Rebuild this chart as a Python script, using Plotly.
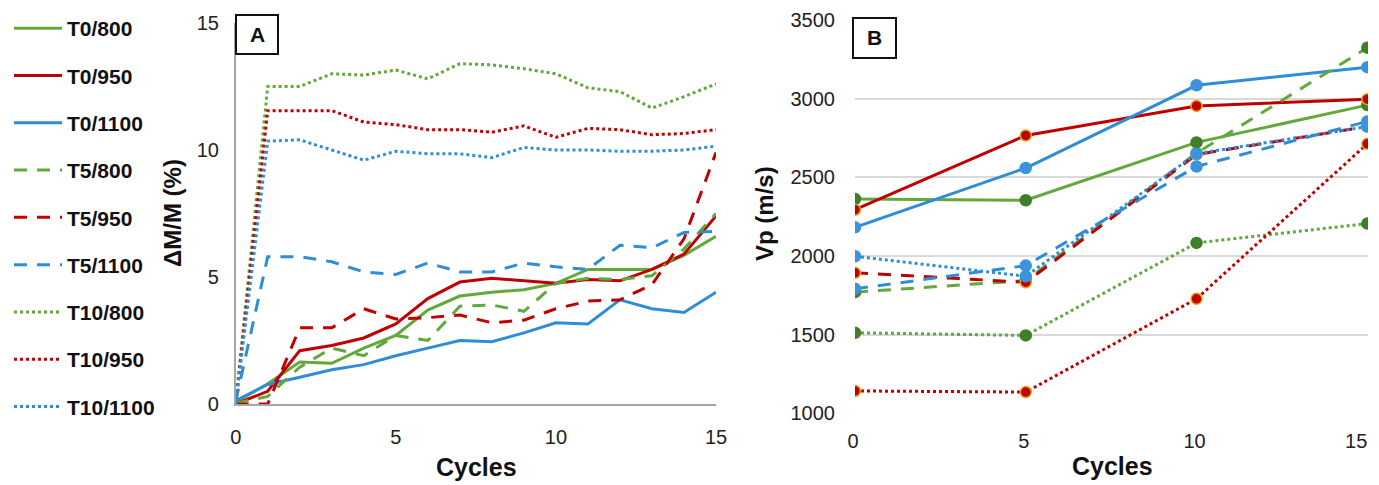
import plotly.graph_objects as go

# ---------------- data ----------------
cycles_a = list(range(16))
series_names = ["T0/800", "T0/950", "T0/1100", "T5/800", "T5/950", "T5/1100",
                "T10/800", "T10/950", "T10/1100"]

dm_T0_800 = [0.07, 0.8, 1.65, 1.6, 2.2, 2.7, 3.7, 4.25, 4.4, 4.5, 4.75, 5.3, 5.3, 5.3, 5.85, 6.6]
dm_T0_950 = [0.0, 0.5, 2.1, 2.3, 2.6, 3.15, 4.15, 4.8, 4.95, 4.85, 4.75, 4.9, 4.85, 5.3, 5.9, 7.4]
dm_T0_1100 = [0.13, 0.77, 1.05, 1.35, 1.55, 1.9, 2.2, 2.5, 2.45, 2.8, 3.2, 3.15, 4.1, 3.75, 3.6, 4.4]
dm_T5_800 = [0.03, 0.3, 1.45, 2.2, 1.9, 2.7, 2.5, 3.85, 3.9, 3.65, 4.75, 4.95, 4.9, 5.05, 6.1, 7.5]
dm_T5_950 = [0.0, 0.0, 3.0, 3.0, 3.75, 3.35, 3.4, 3.5, 3.2, 3.3, 3.75, 4.05, 4.1, 4.7, 6.5, 9.9]
dm_T5_1100 = [0.1, 5.8, 5.8, 5.6, 5.2, 5.1, 5.55, 5.2, 5.2, 5.55, 5.4, 5.3, 6.25, 6.15, 6.75, 6.8]
dm_T10_800 = [0.0, 12.5, 12.5, 13.0, 12.95, 13.15, 12.8, 13.4, 13.35, 13.2, 13.0, 12.45, 12.3, 11.65, 12.1, 12.6]
dm_T10_950 = [0.0, 11.55, 11.55, 11.55, 11.1, 11.0, 10.8, 10.8, 10.7, 10.95, 10.5, 10.85, 10.8, 10.6, 10.65, 10.8]
dm_T10_1100 = [0.0, 10.35, 10.4, 10.0, 9.6, 9.95, 9.85, 9.85, 9.7, 10.1, 10.0, 10.0, 9.95, 9.95, 10.0, 10.15]

cycles_b = [0, 5, 10, 15]
vp_T0_800 = [2362, 2354, 2722, 2959]
vp_T0_950 = [2294, 2766, 2954, 2997]
vp_T0_1100 = [2182, 2559, 3085, 3200]
vp_T5_800 = [1770, 1844, 2654, 3324]
vp_T5_950 = [1893, 1833, 2645, 2823]
vp_T5_1100 = [1791, 1939, 2569, 2855]
vp_T10_800 = [1512, 1495, 2083, 2206]
vp_T10_950 = [1142, 1135, 1728, 2713]
vp_T10_1100 = [1998, 1871, 2650, 2823]

ticks_a = [0, 5, 10, 15]
ticks_b_x_inner = [0, 5, 10]
ticks_b_x_last = [15]
ticks_b_y = [1000, 1500, 2000, 2500, 3000, 3500]

# ---------------- styles ----------------
GREEN, RED, BLUE = "#62a83a", "#c00000", "#2f8dd8"
MK_GREEN, MK_RED, MK_BLUE = "#3f7f26", "#c00000", "#3a93dc"
DASH = "13px,10px"

dm_data = [dm_T0_800, dm_T0_950, dm_T0_1100, dm_T5_800, dm_T5_950, dm_T5_1100,
           dm_T10_800, dm_T10_950, dm_T10_1100]
vp_data = [vp_T0_800, vp_T0_950, vp_T0_1100, vp_T5_800, vp_T5_950, vp_T5_1100,
           vp_T10_800, vp_T10_950, vp_T10_1100]
colors = [GREEN, RED, BLUE] * 3
mk_colors = [MK_GREEN, MK_RED, MK_BLUE] * 3
dashes = ["solid"] * 3 + [DASH] * 3 + ["dot"] * 3

FONT = "Liberation Sans, Arial, sans-serif"

fig = go.Figure()
for i, name in enumerate(series_names):
    fig.add_trace(go.Scatter(
        x=cycles_a, y=dm_data[i], mode="lines", name=name,
        legendgroup=name,
        line=dict(color=colors[i], width=3, dash=dashes[i]),
        xaxis="x", yaxis="y", hoverinfo="skip"))

for i, name in enumerate(series_names):
    is_red = (i % 3 == 1)
    fig.add_trace(go.Scatter(
        x=cycles_b, y=vp_data[i], mode="lines+markers", name=name,
        showlegend=False,
        line=dict(color=colors[i], width=3, dash=dashes[i]),
        marker=dict(size=11, color=mk_colors[i],
                    line=dict(color="#e0a818" if is_red else mk_colors[i], width=1.5)),
        xaxis="x2", yaxis="y2", hoverinfo="skip"))

# the page puts the figure 8 px in from the top-left corner (body margin)
OFF = 8
W, H = 1379 - OFF, 485 - OFF
def px_x(p):
    return (p - OFF) / W
def px_y(p):
    return 1 - (p - OFF) / H

tickf = dict(size=20, color="#222222")
B_DOMAIN = [px_x(855), px_x(1368)]
B_RANGE = [0, 15.02]
fig.update_layout(
    width=W, height=H,
    margin=dict(l=0, r=0, t=0, b=0, autoexpand=False),
    paper_bgcolor="white", plot_bgcolor="white",
    font=dict(family=FONT, size=20, color="#1a1a1a"),
    showlegend=True,
    legend=dict(x=px_x(9), y=1.0, xanchor="left", yanchor="top",
                font=dict(family=FONT, size=21, color="#111111", weight="bold"),
                itemwidth=48, tracegroupgap=17, bgcolor="rgba(0,0,0,0)",
                itemclick=False),
    xaxis=dict(domain=[px_x(235.7), px_x(716)], range=[0, 15], anchor="y",
               tickvals=ticks_a, showgrid=False, zeroline=False, automargin=False,
               showline=True, linecolor="#a6a6a6", linewidth=1.5,
               ticks="", ticklabelstandoff=14, tickfont=tickf),
    yaxis=dict(domain=[px_y(404), px_y(23)], range=[0, 15], anchor="x",
               tickvals=ticks_a, showgrid=False, zeroline=False, automargin=False,
               showline=True, linecolor="#a6a6a6", linewidth=1.5,
               ticks="", ticklabelstandoff=11, tickfont=tickf),
    xaxis2=dict(domain=B_DOMAIN, range=B_RANGE, anchor="y2",
                tickvals=ticks_b_x_inner, showgrid=False, zeroline=False, automargin=False,
                showline=False, ticks="", ticklabelstandoff=14, ticklabelshift=-2,
                tickfont=tickf),
    xaxis3=dict(domain=B_DOMAIN, range=B_RANGE, anchor="y2", overlaying="x2",
                tickvals=ticks_b_x_last, showgrid=False, zeroline=False, automargin=False,
                showline=False, ticks="", ticklabelstandoff=14,
                ticklabelposition="outside left", tickfont=tickf),
    yaxis2=dict(domain=[px_y(413.3), px_y(20)], range=[1000, 3500], anchor="x2",
                tickvals=ticks_b_y, showgrid=True, gridcolor="#d9d9d9", gridwidth=2,
                zeroline=False, showline=False, ticks="", ticklabelstandoff=19,
                automargin=False, tickfont=tickf),
    shapes=[
        dict(type="rect", xref="paper", yref="paper",
             x0=px_x(236), x1=px_x(278), y0=px_y(54), y1=px_y(15),
             line=dict(color="#111111", width=2), fillcolor="white", layer="above"),
        dict(type="rect", xref="paper", yref="paper",
             x0=px_x(853), x1=px_x(896), y0=px_y(58), y1=px_y(18),
             line=dict(color="#111111", width=2), fillcolor="white", layer="above"),
    ],
)

# invisible trace so the overlaying x-axis is drawn
fig.add_trace(go.Scatter(x=[ticks_b_x_last[0]], y=[vp_T0_950[-1]], mode="markers",
                         marker=dict(opacity=0), showlegend=False, hoverinfo="skip",
                         xaxis="x3", yaxis="y2"))

ann = [
    ("<b>A</b>", 257, 35, 21, 0),
    ("<b>B</b>", 874.5, 38, 21, 0),
    ("<b>Cycles</b>", 476, 467, 25, 0),
    ("<b>Cycles</b>", 1112, 466, 25, 0),
    ("<b>ΔM/M (%)</b>", 172, 213, 24, -90),
    ("<b>Vp (m/s)</b>", 764, 214, 24, -90),
]
for text, ax_, ay_, size, ang in ann:
    fig.add_annotation(text=text, xref="paper", yref="paper", x=px_x(ax_), y=px_y(ay_),
                       xanchor="center", yanchor="middle", showarrow=False,
                       textangle=ang, font=dict(size=size, color="#111111"))

fig.write_html("out.html")
